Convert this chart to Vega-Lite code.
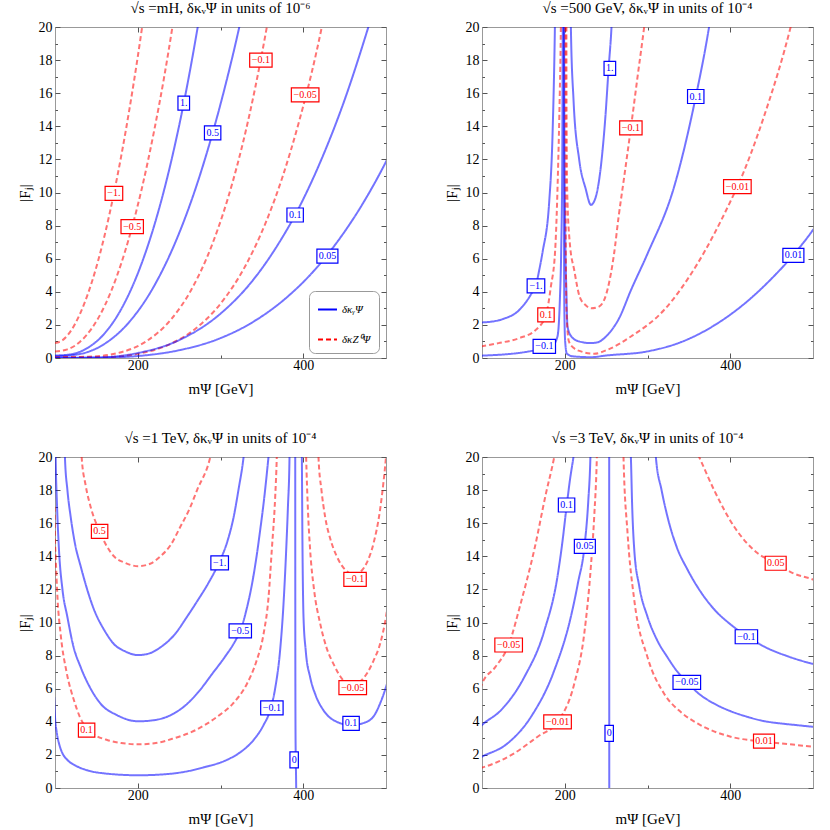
{
"$schema":"https://vega.github.io/schema/vega-lite/v6.json",
"background":"white",
"padding":{"left":16,"top":0,"right":5,"bottom":5},
"columns":2,
"spacing":{"row":33,"column":56},
"resolve":{"scale":{"color":"independent","strokeDash":"independent"}},
"datasets":{
"curves":[
{"p":1,"c":"a","k":"Z","x":100,"y":0.9},{"p":1,"c":"a","k":"Z","x":110,"y":1.11},{"p":1,"c":"a","k":"Z","x":120,"y":1.7},{"p":1,"c":"a","k":"Z","x":130,"y":2.64},{"p":1,"c":"a","k":"Z","x":140,"y":3.91},{"p":1,"c":"a","k":"Z","x":150,"y":5.5},{"p":1,"c":"a","k":"Z","x":160,"y":7.42},{"p":1,"c":"a","k":"Z","x":171.2,"y":9.95},{"p":1,"c":"a","k":"Z","x":180,"y":12.2},{"p":1,"c":"a","k":"Z","x":190,"y":15.05},{"p":1,"c":"a","k":"Z","x":200,"y":18.2},{"p":1,"c":"a","k":"Z","x":205.3,"y":20},{"p":1,"c":"a","k":"Z","x":209,"y":21.3},
{"p":1,"c":"b","k":"Z","x":100,"y":0.4},{"p":1,"c":"b","k":"Z","x":115,"y":0.52},{"p":1,"c":"b","k":"Z","x":130,"y":0.97},{"p":1,"c":"b","k":"Z","x":145,"y":1.83},{"p":1,"c":"b","k":"Z","x":160,"y":3.15},{"p":1,"c":"b","k":"Z","x":175,"y":4.98},{"p":1,"c":"b","k":"Z","x":193.3,"y":7.94},{"p":1,"c":"b","k":"Z","x":205,"y":10.26},{"p":1,"c":"b","k":"Z","x":220,"y":13.78},{"p":1,"c":"b","k":"Z","x":232,"y":17.0},{"p":1,"c":"b","k":"Z","x":241.9,"y":20},{"p":1,"c":"b","k":"Z","x":245,"y":21},
{"p":1,"c":"c","k":"γ","x":100,"y":0.15},{"p":1,"c":"c","k":"γ","x":120,"y":0.23},{"p":1,"c":"c","k":"γ","x":140,"y":0.63},{"p":1,"c":"c","k":"γ","x":160,"y":1.49},{"p":1,"c":"c","k":"γ","x":180,"y":2.95},{"p":1,"c":"c","k":"γ","x":200,"y":5.1},{"p":1,"c":"c","k":"γ","x":220,"y":8.02},{"p":1,"c":"c","k":"γ","x":240,"y":11.8},{"p":1,"c":"c","k":"γ","x":255.6,"y":15.4},{"p":1,"c":"c","k":"γ","x":264,"y":17.6},{"p":1,"c":"c","k":"γ","x":272.5,"y":20},{"p":1,"c":"c","k":"γ","x":276,"y":21},
{"p":1,"c":"d","k":"γ","x":100,"y":0.1},{"p":1,"c":"d","k":"γ","x":130,"y":0.24},{"p":1,"c":"d","k":"γ","x":160,"y":0.86},{"p":1,"c":"d","k":"γ","x":190,"y":2.19},{"p":1,"c":"d","k":"γ","x":220,"y":4.37},{"p":1,"c":"d","k":"γ","x":250,"y":7.54},{"p":1,"c":"d","k":"γ","x":270,"y":10.26},{"p":1,"c":"d","k":"γ","x":290.5,"y":13.6},{"p":1,"c":"d","k":"γ","x":305,"y":16.3},{"p":1,"c":"d","k":"γ","x":322.7,"y":20},{"p":1,"c":"d","k":"γ","x":327,"y":21},
{"p":1,"c":"e","k":"Z","x":100,"y":0.05},{"p":1,"c":"e","k":"Z","x":140,"y":0.075},{"p":1,"c":"e","k":"Z","x":180,"y":0.35},{"p":1,"c":"e","k":"Z","x":210,"y":1.0},{"p":1,"c":"e","k":"Z","x":240,"y":2.32},{"p":1,"c":"e","k":"Z","x":265,"y":4.15},{"p":1,"c":"e","k":"Z","x":290,"y":6.87},{"p":1,"c":"e","k":"Z","x":315,"y":10.69},{"p":1,"c":"e","k":"Z","x":335,"y":14.7},{"p":1,"c":"e","k":"Z","x":348.8,"y":18.06},{"p":1,"c":"e","k":"Z","x":356,"y":20},{"p":1,"c":"e","k":"Z","x":359,"y":20.85},
{"p":1,"c":"f","k":"Z","x":100,"y":0.02},{"p":1,"c":"f","k":"Z","x":160,"y":0.05},{"p":1,"c":"f","k":"Z","x":200,"y":0.25},{"p":1,"c":"f","k":"Z","x":240,"y":0.86},{"p":1,"c":"f","k":"Z","x":270,"y":1.78},{"p":1,"c":"f","k":"Z","x":300,"y":3.28},{"p":1,"c":"f","k":"Z","x":330,"y":5.56},{"p":1,"c":"f","k":"Z","x":355,"y":8.22},{"p":1,"c":"f","k":"Z","x":375,"y":10.95},{"p":1,"c":"f","k":"Z","x":395,"y":14.3},{"p":1,"c":"f","k":"Z","x":410,"y":17.2},{"p":1,"c":"f","k":"Z","x":422.4,"y":20},{"p":1,"c":"f","k":"Z","x":426,"y":20.9},
{"p":1,"c":"g","k":"γ","x":100,"y":0.01},{"p":1,"c":"g","k":"γ","x":150,"y":0.03},{"p":1,"c":"g","k":"γ","x":200,"y":0.3},{"p":1,"c":"g","k":"γ","x":250,"y":1.08},{"p":1,"c":"g","k":"γ","x":300,"y":2.68},{"p":1,"c":"g","k":"γ","x":340,"y":4.75},{"p":1,"c":"g","k":"γ","x":370,"y":6.9},{"p":1,"c":"g","k":"γ","x":390.2,"y":8.64},{"p":1,"c":"g","k":"γ","x":420,"y":11.77},{"p":1,"c":"g","k":"γ","x":450,"y":15.6},{"p":1,"c":"g","k":"γ","x":478.7,"y":20},{"p":1,"c":"g","k":"γ","x":483,"y":20.7},
{"p":1,"c":"h","k":"γ","x":100,"y":0.005},{"p":1,"c":"h","k":"γ","x":150,"y":0.012},{"p":1,"c":"h","k":"γ","x":200,"y":0.12},{"p":1,"c":"h","k":"γ","x":250,"y":0.47},{"p":1,"c":"h","k":"γ","x":300,"y":1.2},{"p":1,"c":"h","k":"γ","x":340,"y":2.2},{"p":1,"c":"h","k":"γ","x":380,"y":3.66},{"p":1,"c":"h","k":"γ","x":410,"y":5.11},{"p":1,"c":"h","k":"γ","x":440,"y":6.94},{"p":1,"c":"h","k":"γ","x":470,"y":9.17},{"p":1,"c":"h","k":"γ","x":500,"y":11.86},{"p":1,"c":"h","k":"γ","x":506,"y":12.46},

{"p":2,"c":"a","k":"γ","x":99,"y":2.15},{"p":2,"c":"a","k":"γ","x":112,"y":2.2},{"p":2,"c":"a","k":"γ","x":125,"y":2.35},{"p":2,"c":"a","k":"γ","x":145,"y":2.9},{"p":2,"c":"a","k":"γ","x":161,"y":4.0},{"p":2,"c":"a","k":"γ","x":165.2,"y":4.4},{"p":2,"c":"a","k":"γ","x":169.1,"y":5.3},{"p":2,"c":"a","k":"γ","x":173.2,"y":6.4},{"p":2,"c":"a","k":"γ","x":181.3,"y":9.5},{"p":2,"c":"a","k":"γ","x":185.3,"y":13.6},{"p":2,"c":"a","k":"γ","x":188.1,"y":20},{"p":2,"c":"a","k":"γ","x":188.4,"y":21},
{"p":2,"c":"b","k":"Z","x":99,"y":0.7},{"p":2,"c":"b","k":"Z","x":120,"y":0.9},{"p":2,"c":"b","k":"Z","x":145,"y":1.2},{"p":2,"c":"b","k":"Z","x":165,"y":1.7},{"p":2,"c":"b","k":"Z","x":177.3,"y":2.6},{"p":2,"c":"b","k":"Z","x":183.2,"y":4.3},{"p":2,"c":"b","k":"Z","x":188.4,"y":6.5},{"p":2,"c":"b","k":"Z","x":192,"y":11.6},{"p":2,"c":"b","k":"Z","x":194,"y":16},{"p":2,"c":"b","k":"Z","x":195.3,"y":20},{"p":2,"c":"b","k":"Z","x":195.5,"y":21},
{"p":2,"c":"c","k":"γ","x":99,"y":0.14},{"p":2,"c":"c","k":"γ","x":157,"y":0.4},{"p":2,"c":"c","k":"γ","x":175.3,"y":0.6},{"p":2,"c":"c","k":"γ","x":185.2,"y":0.75},{"p":2,"c":"c","k":"γ","x":191.2,"y":1.3},{"p":2,"c":"c","k":"γ","x":194.1,"y":3.5},{"p":2,"c":"c","k":"γ","x":195.7,"y":6.5},{"p":2,"c":"c","k":"γ","x":197,"y":12},{"p":2,"c":"c","k":"γ","x":197.6,"y":20},{"p":2,"c":"c","k":"γ","x":197.7,"y":21},
{"p":2,"c":"d","k":"γ","x":198.9,"y":21},{"p":2,"c":"d","k":"γ","x":199,"y":10},{"p":2,"c":"d","k":"γ","x":199.5,"y":3},{"p":2,"c":"d","k":"γ","x":200.5,"y":1},{"p":2,"c":"d","k":"γ","x":202.6,"y":0.26},{"p":2,"c":"d","k":"γ","x":210,"y":0.1},{"p":2,"c":"d","k":"γ","x":231.6,"y":0.05},{"p":2,"c":"d","k":"γ","x":250,"y":0.15},{"p":2,"c":"d","k":"γ","x":300,"y":0.4},{"p":2,"c":"d","k":"γ","x":340,"y":0.95},{"p":2,"c":"d","k":"γ","x":380,"y":1.95},{"p":2,"c":"d","k":"γ","x":420,"y":3.4},{"p":2,"c":"d","k":"γ","x":450,"y":4.8},{"p":2,"c":"d","k":"γ","x":476.3,"y":6.23},{"p":2,"c":"d","k":"γ","x":500,"y":7.74},{"p":2,"c":"d","k":"γ","x":505,"y":8.1},
{"p":2,"c":"e","k":"γ","x":199.3,"y":21},{"p":2,"c":"e","k":"γ","x":199.5,"y":15},{"p":2,"c":"e","k":"γ","x":200.5,"y":8},{"p":2,"c":"e","k":"γ","x":202,"y":4},{"p":2,"c":"e","k":"γ","x":203.3,"y":1.9},{"p":2,"c":"e","k":"γ","x":208,"y":1.3},{"p":2,"c":"e","k":"γ","x":217.4,"y":1.0},{"p":2,"c":"e","k":"γ","x":231.6,"y":0.9},{"p":2,"c":"e","k":"γ","x":240,"y":0.95},{"p":2,"c":"e","k":"γ","x":247.7,"y":1.2},{"p":2,"c":"e","k":"γ","x":253.6,"y":1.5},{"p":2,"c":"e","k":"γ","x":265.7,"y":2.4},{"p":2,"c":"e","k":"γ","x":280,"y":4.1},{"p":2,"c":"e","k":"γ","x":300,"y":6.3},{"p":2,"c":"e","k":"γ","x":332.2,"y":10.35},{"p":2,"c":"e","k":"γ","x":358.4,"y":15.8},{"p":2,"c":"e","k":"γ","x":374.4,"y":20},{"p":2,"c":"e","k":"γ","x":376,"y":20.5},
{"p":2,"c":"f","k":"γ","x":207.2,"y":21},{"p":2,"c":"f","k":"γ","x":207.4,"y":20},{"p":2,"c":"f","k":"γ","x":210.6,"y":15.6},{"p":2,"c":"f","k":"γ","x":217.4,"y":12},{"p":2,"c":"f","k":"γ","x":225.4,"y":10.2},{"p":2,"c":"f","k":"γ","x":231.6,"y":9.25},{"p":2,"c":"f","k":"γ","x":237.6,"y":9.75},{"p":2,"c":"f","k":"γ","x":243.7,"y":11.6},{"p":2,"c":"f","k":"γ","x":249,"y":14.5},{"p":2,"c":"f","k":"γ","x":253,"y":17.5},{"p":2,"c":"f","k":"γ","x":256.5,"y":20},{"p":2,"c":"f","k":"γ","x":257,"y":20.5},
{"p":2,"c":"g","k":"Z","x":200.8,"y":21},{"p":2,"c":"g","k":"Z","x":201,"y":10},{"p":2,"c":"g","k":"Z","x":202,"y":3},{"p":2,"c":"g","k":"Z","x":205,"y":1},{"p":2,"c":"g","k":"Z","x":211,"y":0.6},{"p":2,"c":"g","k":"Z","x":219.5,"y":0.4},{"p":2,"c":"g","k":"Z","x":235.6,"y":0.26},{"p":2,"c":"g","k":"Z","x":251.7,"y":0.5},{"p":2,"c":"g","k":"Z","x":280,"y":1.3},{"p":2,"c":"g","k":"Z","x":320,"y":2.9},{"p":2,"c":"g","k":"Z","x":360.4,"y":5.7},{"p":2,"c":"g","k":"Z","x":400.6,"y":9.5},{"p":2,"c":"g","k":"Z","x":408.6,"y":10.35},{"p":2,"c":"g","k":"Z","x":440.8,"y":14.6},{"p":2,"c":"g","k":"Z","x":473,"y":20},{"p":2,"c":"g","k":"Z","x":475,"y":20.4},
{"p":2,"c":"h","k":"Z","x":202,"y":21},{"p":2,"c":"h","k":"Z","x":202.2,"y":15},{"p":2,"c":"h","k":"Z","x":203,"y":10},{"p":2,"c":"h","k":"Z","x":206,"y":7},{"p":2,"c":"h","k":"Z","x":211.5,"y":5.3},{"p":2,"c":"h","k":"Z","x":218,"y":3.7},{"p":2,"c":"h","k":"Z","x":225,"y":3.2},{"p":2,"c":"h","k":"Z","x":232,"y":3.0},{"p":2,"c":"h","k":"Z","x":239,"y":3.05},{"p":2,"c":"h","k":"Z","x":245.5,"y":3.3},{"p":2,"c":"h","k":"Z","x":252,"y":4.2},{"p":2,"c":"h","k":"Z","x":259.6,"y":6.3},{"p":2,"c":"h","k":"Z","x":265,"y":8.5},{"p":2,"c":"h","k":"Z","x":272,"y":11},{"p":2,"c":"h","k":"Z","x":279.9,"y":13.9},{"p":2,"c":"h","k":"Z","x":288,"y":17},{"p":2,"c":"h","k":"Z","x":296,"y":20},{"p":2,"c":"h","k":"Z","x":298,"y":20.8},

{"p":3,"c":"a","k":"Z","x":131,"y":21},{"p":3,"c":"a","k":"Z","x":132.2,"y":20},{"p":3,"c":"a","k":"Z","x":137,"y":18.3},{"p":3,"c":"a","k":"Z","x":143,"y":17},{"p":3,"c":"a","k":"Z","x":153.9,"y":15.5},{"p":3,"c":"a","k":"Z","x":171.2,"y":14},{"p":3,"c":"a","k":"Z","x":185,"y":13.6},{"p":3,"c":"a","k":"Z","x":200.5,"y":13.4},{"p":3,"c":"a","k":"Z","x":215,"y":13.55},{"p":3,"c":"a","k":"Z","x":227.4,"y":14},{"p":3,"c":"a","k":"Z","x":240,"y":14.7},{"p":3,"c":"a","k":"Z","x":251.6,"y":15.8},{"p":3,"c":"a","k":"Z","x":262,"y":16.8},{"p":3,"c":"a","k":"Z","x":271.7,"y":18},{"p":3,"c":"a","k":"Z","x":287.7,"y":20},{"p":3,"c":"a","k":"Z","x":290,"y":20.5},
{"p":3,"c":"b","k":"γ","x":111.5,"y":21},{"p":3,"c":"b","k":"γ","x":112,"y":20},{"p":3,"c":"b","k":"γ","x":115,"y":18},{"p":3,"c":"b","k":"γ","x":118.9,"y":16.4},{"p":3,"c":"b","k":"γ","x":124,"y":14.8},{"p":3,"c":"b","k":"γ","x":131,"y":13.4},{"p":3,"c":"b","k":"γ","x":147,"y":10.8},{"p":3,"c":"b","k":"γ","x":160,"y":9.5},{"p":3,"c":"b","k":"γ","x":171.2,"y":8.7},{"p":3,"c":"b","k":"γ","x":185,"y":8.25},{"p":3,"c":"b","k":"γ","x":200.5,"y":8.03},{"p":3,"c":"b","k":"γ","x":215,"y":8.15},{"p":3,"c":"b","k":"γ","x":227.4,"y":8.5},{"p":3,"c":"b","k":"γ","x":245,"y":9.3},{"p":3,"c":"b","k":"γ","x":259.6,"y":10.35},{"p":3,"c":"b","k":"γ","x":272,"y":11.3},{"p":3,"c":"b","k":"γ","x":285,"y":12.35},{"p":3,"c":"b","k":"γ","x":299,"y":13.7},{"p":3,"c":"b","k":"γ","x":308,"y":14.85},{"p":3,"c":"b","k":"γ","x":316,"y":16.4},{"p":3,"c":"b","k":"γ","x":322,"y":18.1},{"p":3,"c":"b","k":"γ","x":327.9,"y":20},{"p":3,"c":"b","k":"γ","x":329,"y":20.5},
{"p":3,"c":"c","k":"γ","x":100.5,"y":21},{"p":3,"c":"c","k":"γ","x":100.8,"y":20},{"p":3,"c":"c","k":"γ","x":102.5,"y":17},{"p":3,"c":"c","k":"γ","x":104.8,"y":14.4},{"p":3,"c":"c","k":"γ","x":109,"y":12},{"p":3,"c":"c","k":"γ","x":114.9,"y":10.35},{"p":3,"c":"c","k":"γ","x":122,"y":8.6},{"p":3,"c":"c","k":"γ","x":131,"y":7.3},{"p":3,"c":"c","k":"γ","x":142,"y":6.1},{"p":3,"c":"c","k":"γ","x":155,"y":5.1},{"p":3,"c":"c","k":"γ","x":175,"y":4.4},{"p":3,"c":"c","k":"γ","x":200.5,"y":4.03},{"p":3,"c":"c","k":"γ","x":220,"y":4.1},{"p":3,"c":"c","k":"γ","x":243.5,"y":4.5},{"p":3,"c":"c","k":"γ","x":260,"y":5.1},{"p":3,"c":"c","k":"γ","x":275.7,"y":5.95},{"p":3,"c":"c","k":"γ","x":290,"y":6.9},{"p":3,"c":"c","k":"γ","x":305,"y":7.9},{"p":3,"c":"c","k":"γ","x":318,"y":8.9},{"p":3,"c":"c","k":"γ","x":324,"y":9.5},{"p":3,"c":"c","k":"γ","x":332,"y":10.9},{"p":3,"c":"c","k":"γ","x":338,"y":12.3},{"p":3,"c":"c","k":"γ","x":343,"y":13.8},{"p":3,"c":"c","k":"γ","x":348,"y":15.6},{"p":3,"c":"c","k":"γ","x":353,"y":17.6},{"p":3,"c":"c","k":"γ","x":358,"y":20},{"p":3,"c":"c","k":"γ","x":359,"y":20.5},
{"p":3,"c":"d","k":"Z","x":99.5,"y":17},{"p":3,"c":"d","k":"Z","x":100,"y":15},{"p":3,"c":"d","k":"Z","x":100.8,"y":14},{"p":3,"c":"d","k":"Z","x":103,"y":11.5},{"p":3,"c":"d","k":"Z","x":106.8,"y":9.3},{"p":3,"c":"d","k":"Z","x":114,"y":7},{"p":3,"c":"d","k":"Z","x":122.9,"y":5.3},{"p":3,"c":"d","k":"Z","x":130,"y":4.3},{"p":3,"c":"d","k":"Z","x":138.2,"y":3.6},{"p":3,"c":"d","k":"Z","x":150,"y":3.15},{"p":3,"c":"d","k":"Z","x":163.1,"y":2.9},{"p":3,"c":"d","k":"Z","x":180,"y":2.72},{"p":3,"c":"d","k":"Z","x":200.5,"y":2.64},{"p":3,"c":"d","k":"Z","x":220,"y":2.7},{"p":3,"c":"d","k":"Z","x":243.5,"y":3.0},{"p":3,"c":"d","k":"Z","x":270,"y":3.5},{"p":3,"c":"d","k":"Z","x":295.8,"y":4.3},{"p":3,"c":"d","k":"Z","x":315,"y":5.1},{"p":3,"c":"d","k":"Z","x":332,"y":6.3},{"p":3,"c":"d","k":"Z","x":343,"y":7.6},{"p":3,"c":"d","k":"Z","x":352,"y":9.3},{"p":3,"c":"d","k":"Z","x":358,"y":11.5},{"p":3,"c":"d","k":"Z","x":362,"y":14.4},{"p":3,"c":"d","k":"Z","x":366,"y":17.5},{"p":3,"c":"d","k":"Z","x":368,"y":20},{"p":3,"c":"d","k":"Z","x":368.5,"y":21},
{"p":3,"c":"e","k":"γ","x":99,"y":5.5},{"p":3,"c":"e","k":"γ","x":100,"y":4.3},{"p":3,"c":"e","k":"γ","x":102,"y":3.4},{"p":3,"c":"e","k":"γ","x":104.8,"y":2.7},{"p":3,"c":"e","k":"γ","x":109,"y":2.1},{"p":3,"c":"e","k":"γ","x":114.9,"y":1.7},{"p":3,"c":"e","k":"γ","x":125,"y":1.35},{"p":3,"c":"e","k":"γ","x":139,"y":1.07},{"p":3,"c":"e","k":"γ","x":160,"y":0.88},{"p":3,"c":"e","k":"γ","x":200.5,"y":0.77},{"p":3,"c":"e","k":"γ","x":230,"y":0.82},{"p":3,"c":"e","k":"γ","x":255.6,"y":0.97},{"p":3,"c":"e","k":"γ","x":280,"y":1.25},{"p":3,"c":"e","k":"γ","x":307.8,"y":1.7},{"p":3,"c":"e","k":"γ","x":325,"y":2.2},{"p":3,"c":"e","k":"γ","x":340,"y":2.9},{"p":3,"c":"e","k":"γ","x":352,"y":3.8},{"p":3,"c":"e","k":"γ","x":360,"y":4.7},{"p":3,"c":"e","k":"γ","x":366,"y":6},{"p":3,"c":"e","k":"γ","x":372,"y":8.3},{"p":3,"c":"e","k":"γ","x":376,"y":11},{"p":3,"c":"e","k":"γ","x":379.4,"y":14.4},{"p":3,"c":"e","k":"γ","x":381.5,"y":17},{"p":3,"c":"e","k":"γ","x":383.4,"y":20},{"p":3,"c":"e","k":"γ","x":383.6,"y":21},
{"p":3,"c":"f","k":"γ","x":390.3,"y":21},{"p":3,"c":"f","k":"γ","x":390.4,"y":10},{"p":3,"c":"f","k":"γ","x":390.6,"y":4},{"p":3,"c":"f","k":"γ","x":390.9,"y":2},{"p":3,"c":"f","k":"γ","x":391.3,"y":0.7},{"p":3,"c":"f","k":"γ","x":391.7,"y":-1},
{"p":3,"c":"g","k":"γ","x":398,"y":21},{"p":3,"c":"g","k":"γ","x":398.3,"y":20},{"p":3,"c":"g","k":"γ","x":399,"y":15},{"p":3,"c":"g","k":"γ","x":400.3,"y":10.35},{"p":3,"c":"g","k":"γ","x":403,"y":8.3},{"p":3,"c":"g","k":"γ","x":408.3,"y":6.7},{"p":3,"c":"g","k":"γ","x":415,"y":5.6},{"p":3,"c":"g","k":"γ","x":424.4,"y":4.7},{"p":3,"c":"g","k":"γ","x":440.5,"y":4.0},{"p":3,"c":"g","k":"γ","x":457.8,"y":3.8},{"p":3,"c":"g","k":"γ","x":476.7,"y":4.0},{"p":3,"c":"g","k":"γ","x":486,"y":4.4},{"p":3,"c":"g","k":"γ","x":492.8,"y":5.1},{"p":3,"c":"g","k":"γ","x":500,"y":6.1},{"p":3,"c":"g","k":"γ","x":503,"y":6.6},
{"p":3,"c":"h","k":"Z","x":403,"y":21},{"p":3,"c":"h","k":"Z","x":403.5,"y":20},{"p":3,"c":"h","k":"Z","x":405.5,"y":17},{"p":3,"c":"h","k":"Z","x":408.3,"y":14.4},{"p":3,"c":"h","k":"Z","x":413,"y":12},{"p":3,"c":"h","k":"Z","x":420.4,"y":9.95},{"p":3,"c":"h","k":"Z","x":428,"y":8.5},{"p":3,"c":"h","k":"Z","x":436.5,"y":7.5},{"p":3,"c":"h","k":"Z","x":448.5,"y":6.5},{"p":3,"c":"h","k":"Z","x":459.8,"y":6.2},{"p":3,"c":"h","k":"Z","x":468,"y":6.4},{"p":3,"c":"h","k":"Z","x":476.7,"y":6.9},{"p":3,"c":"h","k":"Z","x":485,"y":7.7},{"p":3,"c":"h","k":"Z","x":492.8,"y":8.7},{"p":3,"c":"h","k":"Z","x":500,"y":10.35},{"p":3,"c":"h","k":"Z","x":502,"y":11},
{"p":3,"c":"i","k":"Z","x":418,"y":21},{"p":3,"c":"i","k":"Z","x":418.4,"y":20},{"p":3,"c":"i","k":"Z","x":422,"y":18},{"p":3,"c":"i","k":"Z","x":426.4,"y":16.4},{"p":3,"c":"i","k":"Z","x":433,"y":15},{"p":3,"c":"i","k":"Z","x":440.5,"y":14},{"p":3,"c":"i","k":"Z","x":450.5,"y":13.2},{"p":3,"c":"i","k":"Z","x":462.6,"y":12.9},{"p":3,"c":"i","k":"Z","x":470,"y":13.1},{"p":3,"c":"i","k":"Z","x":476.7,"y":13.6},{"p":3,"c":"i","k":"Z","x":485,"y":14.8},{"p":3,"c":"i","k":"Z","x":492.8,"y":16.8},{"p":3,"c":"i","k":"Z","x":497,"y":18.5},{"p":3,"c":"i","k":"Z","x":500,"y":20},{"p":3,"c":"i","k":"Z","x":501,"y":20.6},

{"p":4,"c":"a","k":"Z","x":98,"y":6},{"p":4,"c":"a","k":"Z","x":100,"y":6.3},{"p":4,"c":"a","k":"Z","x":116,"y":7.3},{"p":4,"c":"a","k":"Z","x":132.2,"y":8.64},{"p":4,"c":"a","k":"Z","x":147,"y":11.2},{"p":4,"c":"a","k":"Z","x":163.2,"y":14.4},{"p":4,"c":"a","k":"Z","x":177.3,"y":17.8},{"p":4,"c":"a","k":"Z","x":187.3,"y":20},{"p":4,"c":"a","k":"Z","x":191,"y":21},
{"p":4,"c":"b","k":"γ","x":98,"y":3.7},{"p":4,"c":"b","k":"γ","x":100,"y":3.8},{"p":4,"c":"b","k":"γ","x":122.9,"y":4.7},{"p":4,"c":"b","k":"γ","x":151.1,"y":6.7},{"p":4,"c":"b","k":"γ","x":175.3,"y":9.5},{"p":4,"c":"b","k":"γ","x":191.3,"y":12.8},{"p":4,"c":"b","k":"γ","x":197,"y":14.8},{"p":4,"c":"b","k":"γ","x":202.2,"y":17.0},{"p":4,"c":"b","k":"γ","x":206.8,"y":18.8},{"p":4,"c":"b","k":"γ","x":210.5,"y":20},{"p":4,"c":"b","k":"γ","x":213,"y":21},
{"p":4,"c":"c","k":"γ","x":98,"y":1.85},{"p":4,"c":"c","k":"γ","x":100,"y":1.9},{"p":4,"c":"c","k":"γ","x":131,"y":2.7},{"p":4,"c":"c","k":"γ","x":159.2,"y":4.3},{"p":4,"c":"c","k":"γ","x":187.3,"y":7.1},{"p":4,"c":"c","k":"γ","x":207.4,"y":10.35},{"p":4,"c":"c","k":"γ","x":216,"y":12.4},{"p":4,"c":"c","k":"γ","x":224.3,"y":14.8},{"p":4,"c":"c","k":"γ","x":228.5,"y":17.4},{"p":4,"c":"c","k":"γ","x":231,"y":20},{"p":4,"c":"c","k":"γ","x":231.5,"y":21},
{"p":4,"c":"d","k":"Z","x":98,"y":1.2},{"p":4,"c":"d","k":"Z","x":100,"y":1.23},{"p":4,"c":"d","k":"Z","x":139,"y":2.1},{"p":4,"c":"d","k":"Z","x":167.2,"y":3.1},{"p":4,"c":"d","k":"Z","x":191.3,"y":4.0},{"p":4,"c":"d","k":"Z","x":211.5,"y":6.3},{"p":4,"c":"d","k":"Z","x":223.5,"y":9.3},{"p":4,"c":"d","k":"Z","x":231.6,"y":13.4},{"p":4,"c":"d","k":"Z","x":235.6,"y":16.4},{"p":4,"c":"d","k":"Z","x":238.8,"y":20},{"p":4,"c":"d","k":"Z","x":239.3,"y":21},
{"p":4,"c":"e","k":"γ","x":253.7,"y":21},{"p":4,"c":"e","k":"γ","x":253.8,"y":-1},
{"p":4,"c":"f","k":"Z","x":270.6,"y":21},{"p":4,"c":"f","k":"Z","x":271,"y":20},{"p":4,"c":"f","k":"Z","x":275.9,"y":15.4},{"p":4,"c":"f","k":"Z","x":283.9,"y":11.4},{"p":4,"c":"f","k":"Z","x":300,"y":7.9},{"p":4,"c":"f","k":"Z","x":320.1,"y":5.7},{"p":4,"c":"f","k":"Z","x":340,"y":4.6},{"p":4,"c":"f","k":"Z","x":360.4,"y":3.9},{"p":4,"c":"f","k":"Z","x":400.6,"y":3.1},{"p":4,"c":"f","k":"Z","x":440.8,"y":2.8},{"p":4,"c":"f","k":"Z","x":470,"y":2.65},{"p":4,"c":"f","k":"Z","x":500,"y":2.5},{"p":4,"c":"f","k":"Z","x":505,"y":2.48},
{"p":4,"c":"g","k":"γ","x":279,"y":21},{"p":4,"c":"g","k":"γ","x":279.9,"y":20},{"p":4,"c":"g","k":"γ","x":281.5,"y":17},{"p":4,"c":"g","k":"γ","x":284,"y":14.4},{"p":4,"c":"g","k":"γ","x":290,"y":12.2},{"p":4,"c":"g","k":"γ","x":300,"y":10.35},{"p":4,"c":"g","k":"γ","x":312,"y":8.9},{"p":4,"c":"g","k":"γ","x":324.1,"y":7.9},{"p":4,"c":"g","k":"γ","x":335,"y":7.1},{"p":4,"c":"g","k":"γ","x":347.5,"y":6.4},{"p":4,"c":"g","k":"γ","x":362,"y":5.7},{"p":4,"c":"g","k":"γ","x":380.5,"y":5.1},{"p":4,"c":"g","k":"γ","x":400,"y":4.65},{"p":4,"c":"g","k":"γ","x":420.7,"y":4.3},{"p":4,"c":"g","k":"γ","x":440,"y":4.05},{"p":4,"c":"g","k":"γ","x":461,"y":3.9},{"p":4,"c":"g","k":"γ","x":480,"y":3.8},{"p":4,"c":"g","k":"γ","x":500,"y":3.7},{"p":4,"c":"g","k":"γ","x":505,"y":3.68},
{"p":4,"c":"h","k":"γ","x":309.5,"y":21},{"p":4,"c":"h","k":"γ","x":310.1,"y":20},{"p":4,"c":"h","k":"γ","x":317,"y":18},{"p":4,"c":"h","k":"γ","x":324.1,"y":16.4},{"p":4,"c":"h","k":"γ","x":335,"y":14.6},{"p":4,"c":"h","k":"γ","x":348.3,"y":13.2},{"p":4,"c":"h","k":"γ","x":365,"y":11.8},{"p":4,"c":"h","k":"γ","x":380.5,"y":10.8},{"p":4,"c":"h","k":"γ","x":400,"y":9.9},{"p":4,"c":"h","k":"γ","x":419.5,"y":9.2},{"p":4,"c":"h","k":"γ","x":440.8,"y":8.55},{"p":4,"c":"h","k":"γ","x":470,"y":7.95},{"p":4,"c":"h","k":"γ","x":500,"y":7.5},{"p":4,"c":"h","k":"γ","x":505,"y":7.44},
{"p":4,"c":"i","k":"Z","x":353,"y":21},{"p":4,"c":"i","k":"Z","x":362.4,"y":20},{"p":4,"c":"i","k":"Z","x":380.5,"y":18},{"p":4,"c":"i","k":"Z","x":404.6,"y":15.8},{"p":4,"c":"i","k":"Z","x":432.8,"y":14.2},{"p":4,"c":"i","k":"Z","x":455,"y":13.58},{"p":4,"c":"i","k":"Z","x":475,"y":13.0},{"p":4,"c":"i","k":"Z","x":500,"y":12.6},{"p":4,"c":"i","k":"Z","x":505,"y":12.5}
],
"labels":[
{"p":1,"t":"1.","k":"γ","x":255.6,"y":15.4},{"p":1,"t":"0.5","k":"γ","x":290.5,"y":13.6},{"p":1,"t":"−0.1","k":"Z","x":348.8,"y":18.0},{"p":1,"t":"−0.05","k":"Z","x":402.3,"y":15.9},{"p":1,"t":"−1.","k":"Z","x":171.2,"y":9.95},{"p":1,"t":"−0.5","k":"Z","x":193.3,"y":7.94},{"p":1,"t":"0.1","k":"γ","x":390.2,"y":8.64},{"p":1,"t":"0.05","k":"γ","x":429.2,"y":6.15},
{"p":2,"t":"1.","k":"γ","x":254.5,"y":17.5},{"p":2,"t":"0.1","k":"γ","x":358.3,"y":15.8},{"p":2,"t":"−0.1","k":"Z","x":279.9,"y":13.9},{"p":2,"t":"−0.01","k":"Z","x":408.6,"y":10.35},{"p":2,"t":"0.01","k":"γ","x":476.3,"y":6.2},{"p":2,"t":"−1.","k":"γ","x":165.2,"y":4.36},{"p":2,"t":"0.1","k":"Z","x":177.3,"y":2.6},{"p":2,"t":"−0.1","k":"γ","x":175.3,"y":0.7},
{"p":3,"t":"0.5","k":"Z","x":153.9,"y":15.5},{"p":3,"t":"−1.","k":"γ","x":299,"y":13.6},{"p":3,"t":"−0.5","k":"γ","x":323.9,"y":9.5},{"p":3,"t":"−0.1","k":"γ","x":362.1,"y":4.84},{"p":3,"t":"0.1","k":"Z","x":138.2,"y":3.5},{"p":3,"t":"0","k":"γ","x":389,"y":1.7},{"p":3,"t":"0.1","k":"γ","x":457.8,"y":3.9},{"p":3,"t":"−0.05","k":"Z","x":459.8,"y":6.07},{"p":3,"t":"−0.1","k":"Z","x":462.6,"y":12.6},
{"p":4,"t":"0.1","k":"γ","x":202.2,"y":17.1},{"p":4,"t":"0.05","k":"γ","x":224.3,"y":14.6},{"p":4,"t":"−0.05","k":"Z","x":132.2,"y":8.64},{"p":4,"t":"−0.01","k":"Z","x":191.3,"y":4.0},{"p":4,"t":"0","k":"γ","x":253.7,"y":3.3},{"p":4,"t":"0.01","k":"Z","x":440.8,"y":2.83},{"p":4,"t":"−0.05","k":"γ","x":347.5,"y":6.38},{"p":4,"t":"−0.1","k":"γ","x":419.5,"y":9.14},{"p":4,"t":"0.05","k":"Z","x":454.9,"y":13.58}
]
},
"concat":[
{"width":331,"height":331,"title":{"text":"√s =mH, δκᵥΨ in units of 10⁻⁶"},
"resolve":{"axis":{"x":"independent","y":"independent"}},
"layer":[
{"data":{"name":"curves"},"transform":[{"filter":"datum.p==1"}],
"mark":{"type":"line","clip":true,"strokeWidth":2,"opacity":0.55,"interpolate":"monotone"},
"encoding":{
"x":{"field":"x","type":"quantitative","scale":{"domain":[100,500],"nice":false,"zero":false},"axis":{"orient":"bottom","values":[200,400],"tickSize":-5,"labelPadding":5,"title":"mΨ [GeV]","titlePadding":9}},
"y":{"field":"y","type":"quantitative","scale":{"domain":[0,20],"nice":false,"zero":false},"axis":{"orient":"left","values":[0,2,4,6,8,10,12,14,16,18,20],"tickSize":-5,"labelPadding":8,"title":"|Fⱼ|","titlePadding":6}},
"detail":{"field":"c"},
"color":{"field":"k","type":"nominal","scale":{"domain":["γ","Z"],"range":["#0000ff","#ff0000"]},"legend":{"orient":"none","legendX":254,"legendY":264,"title":null,"symbolType":"stroke","symbolSize":360,"symbolStrokeWidth":2,"symbolOpacity":1,"labelFont":"Liberation Serif","labelFontSize":11,"labelFontStyle":"italic","strokeColor":"#999","cornerRadius":6,"fillColor":"white","padding":8,"rowPadding":14,"labelExpr":"datum.value == 'γ' ? 'δκᵧΨ' : 'δκZ⁰Ψ'"}},
"strokeDash":{"field":"k","type":"nominal","scale":{"domain":["γ","Z"],"range":[[1,0],[5,3]]},"legend":{"orient":"none","legendX":254,"legendY":264,"title":null,"symbolType":"stroke","symbolSize":360,"symbolStrokeWidth":2,"symbolOpacity":1,"labelFont":"Liberation Serif","labelFontSize":11,"labelFontStyle":"italic","strokeColor":"#999","cornerRadius":6,"fillColor":"white","padding":8,"rowPadding":14,"labelExpr":"datum.value == 'γ' ? 'δκᵧΨ' : 'δκZ⁰Ψ'"}}
}},
{"data":{"name":"labels"},"transform":[{"filter":"datum.p==1"}],
"mark":{"type":"point","filled":true,"fill":"white","size":400,"strokeWidth":1.2,"opacity":1},
"encoding":{
"x":{"field":"x","type":"quantitative","axis":{"orient":"top","values":[200,400],"tickSize":-5,"labels":false,"title":null}},
"y":{"field":"y","type":"quantitative","axis":{"orient":"right","values":[0,2,4,6,8,10,12,14,16,18,20],"tickSize":-5,"labels":false,"title":null}},
"shape":{"field":"t","type":"nominal","legend":null,"scale":{"domain":["1.","0.5","0.1","0.05","0.01","−1.","−0.5","−0.1","−0.05","−0.01","0"],"range":["M-0.58,-0.7H0.58V0.7H-0.58Z","M-0.82,-0.7H0.82V0.7H-0.82Z","M-0.82,-0.7H0.82V0.7H-0.82Z","M-1.05,-0.7H1.05V0.7H-1.05Z","M-1.05,-0.7H1.05V0.7H-1.05Z","M-0.88,-0.7H0.88V0.7H-0.88Z","M-1.12,-0.7H1.12V0.7H-1.12Z","M-1.12,-0.7H1.12V0.7H-1.12Z","M-1.38,-0.7H1.38V0.7H-1.38Z","M-1.38,-0.7H1.38V0.7H-1.38Z","M-0.42,-0.8H0.42V0.8H-0.42Z"]}},
"stroke":{"field":"k","type":"nominal","legend":null,"scale":{"domain":["γ","Z"],"range":["#0000ff","#ff0000"]}}
}},
{"data":{"name":"labels"},"transform":[{"filter":"datum.p==1"}],
"mark":{"type":"text","font":"Liberation Serif","fontSize":10,"baseline":"middle","align":"center"},
"encoding":{
"x":{"field":"x","type":"quantitative","axis":{"orient":"bottom","values":[300],"tickSize":-3,"labels":false,"title":null}},
"y":{"field":"y","type":"quantitative","axis":{"orient":"left","values":[1,3,5,7,9,11,13,15,17,19],"tickSize":-2.5,"labels":false,"title":null}},
"text":{"field":"t"},
"fill":{"field":"k","type":"nominal","legend":null,"scale":{"domain":["γ","Z"],"range":["#0000ff","#ff0000"]}}
}},
{"data":{"name":"labels"},"transform":[{"filter":"datum.p==1"}],
"mark":{"type":"point","opacity":0},
"encoding":{
"x":{"field":"x","type":"quantitative","axis":{"orient":"top","values":[300],"tickSize":-3,"labels":false,"title":null}},
"y":{"field":"y","type":"quantitative","axis":{"orient":"right","values":[1,3,5,7,9,11,13,15,17,19],"tickSize":-2.5,"labels":false,"title":null}}
}}
]},
{"width":331,"height":331,"title":{"text":"√s =500 GeV, δκᵥΨ in units of 10⁻⁴"},
"resolve":{"axis":{"x":"independent","y":"independent"}},
"layer":[
{"data":{"name":"curves"},"transform":[{"filter":"datum.p==2"}],
"mark":{"type":"line","clip":true,"strokeWidth":2,"opacity":0.55,"interpolate":"monotone"},
"encoding":{
"x":{"field":"x","type":"quantitative","scale":{"domain":[100,500],"nice":false,"zero":false},"axis":{"orient":"bottom","values":[200,400],"tickSize":-5,"labelPadding":5,"title":"mΨ [GeV]","titlePadding":9}},
"y":{"field":"y","type":"quantitative","scale":{"domain":[0,20],"nice":false,"zero":false},"axis":{"orient":"left","values":[0,2,4,6,8,10,12,14,16,18,20],"tickSize":-5,"labelPadding":8,"title":"|Fⱼ|","titlePadding":6}},
"detail":{"field":"c"},
"color":{"field":"k","type":"nominal","scale":{"domain":["γ","Z"],"range":["#0000ff","#ff0000"]},"legend":null},
"strokeDash":{"field":"k","type":"nominal","scale":{"domain":["γ","Z"],"range":[[1,0],[5,3]]},"legend":null}
}},
{"data":{"name":"labels"},"transform":[{"filter":"datum.p==2"}],
"mark":{"type":"point","filled":true,"fill":"white","size":400,"strokeWidth":1.2,"opacity":1},
"encoding":{
"x":{"field":"x","type":"quantitative","axis":{"orient":"top","values":[200,400],"tickSize":-5,"labels":false,"title":null}},
"y":{"field":"y","type":"quantitative","axis":{"orient":"right","values":[0,2,4,6,8,10,12,14,16,18,20],"tickSize":-5,"labels":false,"title":null}},
"shape":{"field":"t","type":"nominal","legend":null,"scale":{"domain":["1.","0.5","0.1","0.05","0.01","−1.","−0.5","−0.1","−0.05","−0.01","0"],"range":["M-0.58,-0.7H0.58V0.7H-0.58Z","M-0.82,-0.7H0.82V0.7H-0.82Z","M-0.82,-0.7H0.82V0.7H-0.82Z","M-1.05,-0.7H1.05V0.7H-1.05Z","M-1.05,-0.7H1.05V0.7H-1.05Z","M-0.88,-0.7H0.88V0.7H-0.88Z","M-1.12,-0.7H1.12V0.7H-1.12Z","M-1.12,-0.7H1.12V0.7H-1.12Z","M-1.38,-0.7H1.38V0.7H-1.38Z","M-1.38,-0.7H1.38V0.7H-1.38Z","M-0.42,-0.8H0.42V0.8H-0.42Z"]}},
"stroke":{"field":"k","type":"nominal","legend":null,"scale":{"domain":["γ","Z"],"range":["#0000ff","#ff0000"]}}
}},
{"data":{"name":"labels"},"transform":[{"filter":"datum.p==2"}],
"mark":{"type":"text","font":"Liberation Serif","fontSize":10,"baseline":"middle","align":"center"},
"encoding":{
"x":{"field":"x","type":"quantitative","axis":{"orient":"bottom","values":[300],"tickSize":-3,"labels":false,"title":null}},
"y":{"field":"y","type":"quantitative","axis":{"orient":"left","values":[1,3,5,7,9,11,13,15,17,19],"tickSize":-2.5,"labels":false,"title":null}},
"text":{"field":"t"},
"fill":{"field":"k","type":"nominal","legend":null,"scale":{"domain":["γ","Z"],"range":["#0000ff","#ff0000"]}}
}},
{"data":{"name":"labels"},"transform":[{"filter":"datum.p==2"}],
"mark":{"type":"point","opacity":0},
"encoding":{
"x":{"field":"x","type":"quantitative","axis":{"orient":"top","values":[300],"tickSize":-3,"labels":false,"title":null}},
"y":{"field":"y","type":"quantitative","axis":{"orient":"right","values":[1,3,5,7,9,11,13,15,17,19],"tickSize":-2.5,"labels":false,"title":null}}
}}
]},
{"width":331,"height":331,"title":{"text":"√s =1 TeV, δκᵥΨ in units of 10⁻⁴"},
"resolve":{"axis":{"x":"independent","y":"independent"}},
"layer":[
{"data":{"name":"curves"},"transform":[{"filter":"datum.p==3"}],
"mark":{"type":"line","clip":true,"strokeWidth":2,"opacity":0.55,"interpolate":"monotone"},
"encoding":{
"x":{"field":"x","type":"quantitative","scale":{"domain":[100,500],"nice":false,"zero":false},"axis":{"orient":"bottom","values":[200,400],"tickSize":-5,"labelPadding":5,"title":"mΨ [GeV]","titlePadding":9}},
"y":{"field":"y","type":"quantitative","scale":{"domain":[0,20],"nice":false,"zero":false},"axis":{"orient":"left","values":[0,2,4,6,8,10,12,14,16,18,20],"tickSize":-5,"labelPadding":8,"title":"|Fⱼ|","titlePadding":6}},
"detail":{"field":"c"},
"color":{"field":"k","type":"nominal","scale":{"domain":["γ","Z"],"range":["#0000ff","#ff0000"]},"legend":null},
"strokeDash":{"field":"k","type":"nominal","scale":{"domain":["γ","Z"],"range":[[1,0],[5,3]]},"legend":null}
}},
{"data":{"name":"labels"},"transform":[{"filter":"datum.p==3"}],
"mark":{"type":"point","filled":true,"fill":"white","size":400,"strokeWidth":1.2,"opacity":1},
"encoding":{
"x":{"field":"x","type":"quantitative","axis":{"orient":"top","values":[200,400],"tickSize":-5,"labels":false,"title":null}},
"y":{"field":"y","type":"quantitative","axis":{"orient":"right","values":[0,2,4,6,8,10,12,14,16,18,20],"tickSize":-5,"labels":false,"title":null}},
"shape":{"field":"t","type":"nominal","legend":null,"scale":{"domain":["1.","0.5","0.1","0.05","0.01","−1.","−0.5","−0.1","−0.05","−0.01","0"],"range":["M-0.58,-0.7H0.58V0.7H-0.58Z","M-0.82,-0.7H0.82V0.7H-0.82Z","M-0.82,-0.7H0.82V0.7H-0.82Z","M-1.05,-0.7H1.05V0.7H-1.05Z","M-1.05,-0.7H1.05V0.7H-1.05Z","M-0.88,-0.7H0.88V0.7H-0.88Z","M-1.12,-0.7H1.12V0.7H-1.12Z","M-1.12,-0.7H1.12V0.7H-1.12Z","M-1.38,-0.7H1.38V0.7H-1.38Z","M-1.38,-0.7H1.38V0.7H-1.38Z","M-0.42,-0.8H0.42V0.8H-0.42Z"]}},
"stroke":{"field":"k","type":"nominal","legend":null,"scale":{"domain":["γ","Z"],"range":["#0000ff","#ff0000"]}}
}},
{"data":{"name":"labels"},"transform":[{"filter":"datum.p==3"}],
"mark":{"type":"text","font":"Liberation Serif","fontSize":10,"baseline":"middle","align":"center"},
"encoding":{
"x":{"field":"x","type":"quantitative","axis":{"orient":"bottom","values":[300],"tickSize":-3,"labels":false,"title":null}},
"y":{"field":"y","type":"quantitative","axis":{"orient":"left","values":[1,3,5,7,9,11,13,15,17,19],"tickSize":-2.5,"labels":false,"title":null}},
"text":{"field":"t"},
"fill":{"field":"k","type":"nominal","legend":null,"scale":{"domain":["γ","Z"],"range":["#0000ff","#ff0000"]}}
}},
{"data":{"name":"labels"},"transform":[{"filter":"datum.p==3"}],
"mark":{"type":"point","opacity":0},
"encoding":{
"x":{"field":"x","type":"quantitative","axis":{"orient":"top","values":[300],"tickSize":-3,"labels":false,"title":null}},
"y":{"field":"y","type":"quantitative","axis":{"orient":"right","values":[1,3,5,7,9,11,13,15,17,19],"tickSize":-2.5,"labels":false,"title":null}}
}}
]},
{"width":331,"height":331,"title":{"text":"√s =3 TeV, δκᵥΨ in units of 10⁻⁴"},
"resolve":{"axis":{"x":"independent","y":"independent"}},
"layer":[
{"data":{"name":"curves"},"transform":[{"filter":"datum.p==4"}],
"mark":{"type":"line","clip":true,"strokeWidth":2,"opacity":0.55,"interpolate":"monotone"},
"encoding":{
"x":{"field":"x","type":"quantitative","scale":{"domain":[100,500],"nice":false,"zero":false},"axis":{"orient":"bottom","values":[200,400],"tickSize":-5,"labelPadding":5,"title":"mΨ [GeV]","titlePadding":9}},
"y":{"field":"y","type":"quantitative","scale":{"domain":[0,20],"nice":false,"zero":false},"axis":{"orient":"left","values":[0,2,4,6,8,10,12,14,16,18,20],"tickSize":-5,"labelPadding":8,"title":"|Fⱼ|","titlePadding":6}},
"detail":{"field":"c"},
"color":{"field":"k","type":"nominal","scale":{"domain":["γ","Z"],"range":["#0000ff","#ff0000"]},"legend":null},
"strokeDash":{"field":"k","type":"nominal","scale":{"domain":["γ","Z"],"range":[[1,0],[5,3]]},"legend":null}
}},
{"data":{"name":"labels"},"transform":[{"filter":"datum.p==4"}],
"mark":{"type":"point","filled":true,"fill":"white","size":400,"strokeWidth":1.2,"opacity":1},
"encoding":{
"x":{"field":"x","type":"quantitative","axis":{"orient":"top","values":[200,400],"tickSize":-5,"labels":false,"title":null}},
"y":{"field":"y","type":"quantitative","axis":{"orient":"right","values":[0,2,4,6,8,10,12,14,16,18,20],"tickSize":-5,"labels":false,"title":null}},
"shape":{"field":"t","type":"nominal","legend":null,"scale":{"domain":["1.","0.5","0.1","0.05","0.01","−1.","−0.5","−0.1","−0.05","−0.01","0"],"range":["M-0.58,-0.7H0.58V0.7H-0.58Z","M-0.82,-0.7H0.82V0.7H-0.82Z","M-0.82,-0.7H0.82V0.7H-0.82Z","M-1.05,-0.7H1.05V0.7H-1.05Z","M-1.05,-0.7H1.05V0.7H-1.05Z","M-0.88,-0.7H0.88V0.7H-0.88Z","M-1.12,-0.7H1.12V0.7H-1.12Z","M-1.12,-0.7H1.12V0.7H-1.12Z","M-1.38,-0.7H1.38V0.7H-1.38Z","M-1.38,-0.7H1.38V0.7H-1.38Z","M-0.42,-0.8H0.42V0.8H-0.42Z"]}},
"stroke":{"field":"k","type":"nominal","legend":null,"scale":{"domain":["γ","Z"],"range":["#0000ff","#ff0000"]}}
}},
{"data":{"name":"labels"},"transform":[{"filter":"datum.p==4"}],
"mark":{"type":"text","font":"Liberation Serif","fontSize":10,"baseline":"middle","align":"center"},
"encoding":{
"x":{"field":"x","type":"quantitative","axis":{"orient":"bottom","values":[300],"tickSize":-3,"labels":false,"title":null}},
"y":{"field":"y","type":"quantitative","axis":{"orient":"left","values":[1,3,5,7,9,11,13,15,17,19],"tickSize":-2.5,"labels":false,"title":null}},
"text":{"field":"t"},
"fill":{"field":"k","type":"nominal","legend":null,"scale":{"domain":["γ","Z"],"range":["#0000ff","#ff0000"]}}
}},
{"data":{"name":"labels"},"transform":[{"filter":"datum.p==4"}],
"mark":{"type":"point","opacity":0},
"encoding":{
"x":{"field":"x","type":"quantitative","axis":{"orient":"top","values":[300],"tickSize":-3,"labels":false,"title":null}},
"y":{"field":"y","type":"quantitative","axis":{"orient":"right","values":[1,3,5,7,9,11,13,15,17,19],"tickSize":-2.5,"labels":false,"title":null}}
}}
]}
],
"config":{
"font":"Liberation Serif",
"view":{"stroke":"#999","strokeWidth":1},
"axis":{"domain":false,"grid":false,"tickColor":"#555","tickWidth":1,"labelFont":"Liberation Serif","titleFont":"Liberation Serif","labelFontSize":14,"titleFontSize":15,"titleFontWeight":"normal","labelColor":"#000","titleColor":"#000"},
"title":{"font":"Liberation Serif","fontSize":15,"fontWeight":"normal","offset":4}
}
}
